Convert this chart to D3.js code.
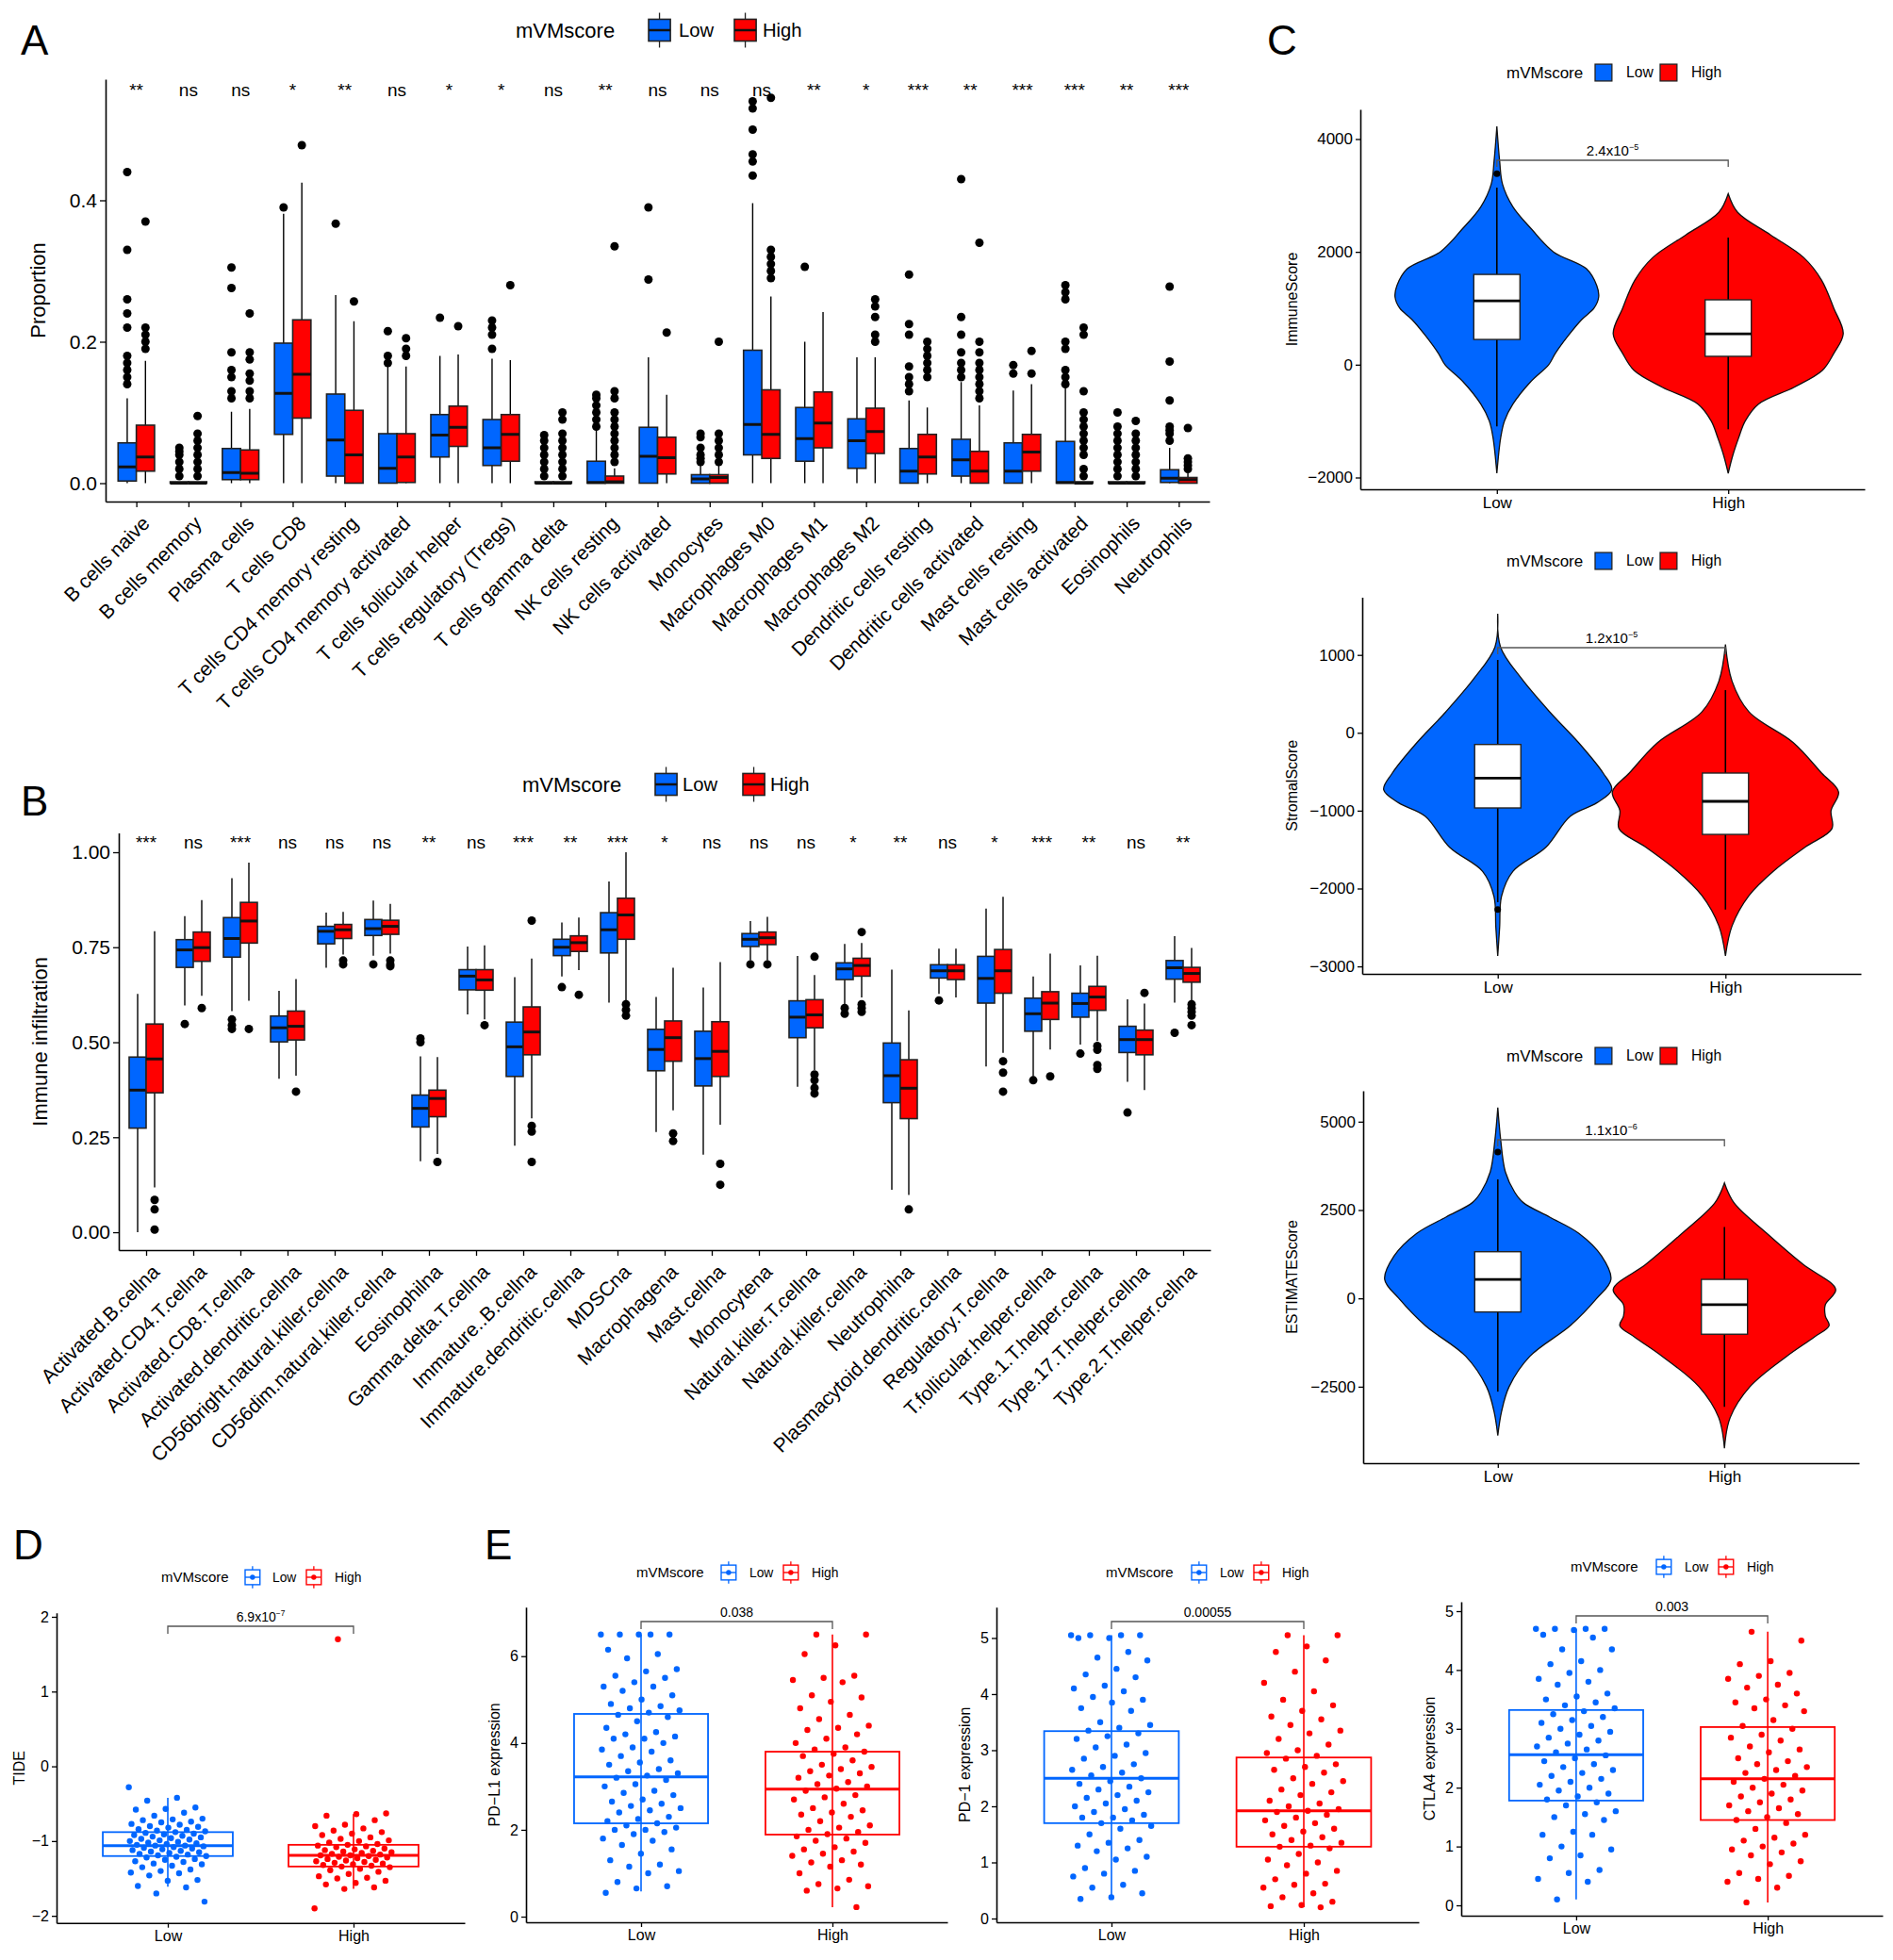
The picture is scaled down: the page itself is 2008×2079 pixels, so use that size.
<!DOCTYPE html>
<html>
<head>
<meta charset="utf-8">
<script src="https://cdn.jsdelivr.net/npm/d3@7"></script>
<style>
  body { margin: 0; background: #fff; }
  svg { font-family: "Liberation Sans", Arial, sans-serif; }
</style>
</head>
<body>
<svg id="fig" width="2008" height="2079"></svg>
<script>
const BLUE = "#0066ff", RED = "#ff0000";
const svg = d3.select("#fig");

// ---------- panel A data: [q1, median, q3, whiskerLow, whiskerHigh], outliers ----------
const cellsA = ["B cells naive","B cells memory","Plasma cells","T cells CD8","T cells CD4 memory resting",
  "T cells CD4 memory activated","T cells follicular helper","T cells regulatory (Tregs)","T cells gamma delta",
  "NK cells resting","NK cells activated","Monocytes","Macrophages M0","Macrophages M1","Macrophages M2",
  "Dendritic cells resting","Dendritic cells activated","Mast cells resting","Mast cells activated","Eosinophils","Neutrophils"];
const sigA = ["**","ns","ns","*","**","ns","*","*","ns","**","ns","ns","ns","**","*","***","**","***","***","**","***"];
const lowA = [[0.003,0.023,0.057,0,0.12],[0,0,0.002,0,0.002],[0.005,0.015,0.049,0,0.101],[0.069,0.127,0.198,0,0.381],
  [0.01,0.061,0.126,0,0.266],[0,0.021,0.07,0,0.165],[0.037,0.068,0.097,0,0.18],[0.025,0.05,0.09,0,0.176],
  [0,0,0.002,0,0.002],[0,0.001,0.031,0,0.075],[0,0.038,0.079,0,0.178],[0,0.006,0.012,0,0.028],
  [0.04,0.083,0.188,0,0.396],[0.031,0.063,0.107,0,0.2],[0.021,0.06,0.091,0,0.178],[0,0.017,0.049,0,0.117],
  [0.01,0.033,0.062,0,0.143],[0,0.017,0.057,0,0.131],[0,0.001,0.059,0,0.135],[0,0,0.002,0,0.002],[0.001,0.007,0.019,0,0.05]];
const highA = [[0.017,0.037,0.082,0,0.173],[0,0,0.002,0,0.002],[0.005,0.014,0.047,0,0.105],[0.092,0.154,0.231,0,0.425],
  [0,0.04,0.103,0,0.229],[0.001,0.037,0.07,0,0.165],[0.052,0.079,0.109,0,0.182],[0.031,0.069,0.097,0,0.174],
  [0,0,0.002,0,0.002],[0,0.002,0.01,0,0.021],[0.013,0.036,0.065,0,0.125],[0,0.008,0.012,0,0.028],
  [0.035,0.069,0.132,0,0.264],[0.05,0.085,0.129,0,0.242],[0.042,0.073,0.106,0,0.178],[0.013,0.037,0.069,0,0.107],
  [0,0.017,0.045,0,0.11],[0.017,0.044,0.069,0,0.14],[0,0,0.002,0,0.002],[0,0,0.002,0,0.002],[0,0.005,0.008,0,0.014]];
const lowOutA = [[0.44,0.33,0.26,0.24,0.22,0.18,0.17,0.16,0.15,0.14],[0.05,0.045,0.04,0.03,0.02,0.01],
  [0.305,0.276,0.185,0.16,0.15,0.13,0.12],[0.39],[0.367],[0.215,0.18,0.17],[0.234],[0.23,0.22,0.21,0.19],
  [0.068,0.06,0.05,0.04,0.03,0.02,0.01],[0.125,0.12,0.11,0.1,0.09,0.08],[0.39,0.288],[0.07,0.065,0.05,0.04,0.035,0.03],
  [0.54,0.53,0.5,0.465,0.455,0.435],[0.306],[],[0.295,0.225,0.21,0.165,0.15,0.14,0.13],
  [0.43,0.235,0.21,0.185,0.17,0.16,0.15],[0.167,0.155],[0.28,0.27,0.26,0.2,0.19,0.16,0.15,0.14],
  [0.1,0.08,0.07,0.06,0.05,0.04,0.03,0.02,0.01],[0.278,0.172,0.117,0.08,0.075,0.07,0.06]];
const highOutA = [[0.37,0.22,0.21,0.2,0.19],[0.095,0.07,0.06,0.05,0.04,0.03,0.02,0.01],
  [0.24,0.185,0.175,0.155,0.145,0.13,0.12],[0.478],[0.257],[0.205,0.19,0.18],[0.222],[0.28],
  [0.1,0.09,0.07,0.06,0.05,0.04,0.03,0.02,0.01],[0.335,0.13,0.12,0.1,0.09,0.08,0.07,0.06,0.05,0.04,0.03],[0.213],
  [0.2,0.07,0.06,0.05,0.04,0.03],[0.545,0.33,0.32,0.31,0.3,0.29],[],[0.26,0.25,0.235,0.21,0.2],
  [0.2,0.19,0.18,0.17,0.16,0.15],[0.34,0.2,0.185,0.17,0.16,0.15,0.14,0.13,0.12],[0.187,0.155],
  [0.22,0.21,0.13,0.1,0.09,0.08,0.07,0.06,0.05,0.04,0.02,0.01],[0.088,0.07,0.06,0.05,0.04,0.03,0.02,0.01],
  [0.078,0.035,0.03,0.025,0.02]];
const ticksA = [0, 0.2, 0.4];

// ---------- panel B data ----------
const cellsB = ["Activated.B.cellna","Activated.CD4.T.cellna","Activated.CD8.T.cellna","Activated.dendritic.cellna",
  "CD56bright.natural.killer.cellna","CD56dim.natural.killer.cellna","Eosinophilna","Gamma.delta.T.cellna",
  "Immature..B.cellna","Immature.dendritic.cellna","MDSCna","Macrophagena","Mast.cellna","Monocytena",
  "Natural.killer.T.cellna","Natural.killer.cellna","Neutrophilna","Plasmacytoid.dendritic.cellna",
  "Regulatory.T.cellna","T.follicular.helper.cellna","Type.1.T.helper.cellna","Type.17.T.helper.cellna","Type.2.T.helper.cellna"];
const sigB = ["***","ns","***","ns","ns","ns","**","ns","***","**","***","*","ns","ns","ns","*","**","ns","*","***","**","ns","**"];
const lowB = [[0.274,0.374,0.461,0,0.627],[0.697,0.743,0.77,0.597,0.832],[0.724,0.773,0.828,0.582,0.932],
  [0.501,0.538,0.569,0.404,0.635],[0.759,0.792,0.805,0.696,0.841],[0.781,0.799,0.823,0.728,0.873],
  [0.277,0.326,0.361,0.187,0.463],[0.638,0.674,0.691,0.573,0.752],[0.41,0.488,0.553,0.228,0.671],
  [0.728,0.75,0.771,0.673,0.815],[0.735,0.796,0.841,0.604,0.923],[0.425,0.481,0.534,0.264,0.619],
  [0.385,0.457,0.529,0.204,0.644],[0.752,0.771,0.786,0.715,0.819],[0.512,0.566,0.609,0.383,0.727],
  [0.665,0.693,0.709,0.6,0.759],[0.341,0.412,0.498,0.112,0.691],[0.669,0.688,0.704,0.627,0.746],
  [0.603,0.668,0.726,0.436,0.852],[0.529,0.575,0.616,0.41,0.673],[0.566,0.602,0.629,0.494,0.702],
  [0.473,0.507,0.542,0.396,0.613],[0.666,0.696,0.715,0.604,0.779]];
const highB = [[0.367,0.456,0.548,0.118,0.792],[0.713,0.749,0.79,0.622,0.874],[0.761,0.819,0.868,0.609,0.973],
  [0.506,0.542,0.582,0.412,0.666],[0.773,0.796,0.81,0.731,0.843],[0.784,0.805,0.821,0.733,0.864],
  [0.304,0.352,0.374,0.206,0.461],[0.637,0.664,0.691,0.56,0.755],[0.467,0.527,0.593,0.3,0.72],
  [0.739,0.762,0.78,0.69,0.828],[0.771,0.835,0.879,0.609,1.0],[0.45,0.512,0.556,0.321,0.696],
  [0.41,0.476,0.554,0.283,0.711],[0.757,0.775,0.79,0.715,0.83],[0.538,0.572,0.612,0.427,0.677],
  [0.674,0.702,0.721,0.618,0.761],[0.299,0.379,0.454,0.098,0.584],[0.665,0.688,0.704,0.618,0.746],
  [0.629,0.688,0.744,0.472,0.883],[0.56,0.603,0.633,0.481,0.733],[0.584,0.619,0.647,0.503,0.728],
  [0.467,0.507,0.532,0.374,0.602],[0.658,0.681,0.697,0.607,0.748]];
const lowOutB = [[],[0.548],[0.56,0.545,0.535],[],[],[0.705],[0.51,0.5],[],[],[0.645],[],[],[],[0.705],[],
  [0.59,0.575],[],[0.61],[],[0.4],[0.47],[0.315],[0.525]];
const highOutB = [[0.085,0.06,0.007],[0.59],[0.535],[0.37],[0.715,0.705],[0.715,0.705,0.7],[0.185],[0.545],
  [0.82,0.28,0.265,0.185],[0.625],[0.6,0.585,0.57],[0.26,0.24],[0.18,0.125],[0.705],[0.725,0.415,0.4,0.38,0.365],
  [0.79,0.6,0.59,0.58],[0.06],[],[0.45,0.42,0.37],[0.41],[0.49,0.48,0.44,0.43],[0.63],[0.6,0.59,0.58,0.57,0.545]];
const ticksB = [0, 0.25, 0.5, 0.75, 1.0];

// ---------- panel C data: box [q1, med, q3, wLo, wHi], outliers, density profile [value, relative width] ----------
const groups = ["Low", "High"];
const immuneBox = [[447,1132,1600,-1094,3139],[148,548,1150,-1145,2253]];
const immuneOut = [[3386],[]];
const immuneDens = [
  [[4226,0],[3600,3],[3200,6],[2800,17],[2400,37],[2000,60],[1700,95],[1400,106],[1200,108],[1000,103],[800,90],[500,75],[200,62],[0,55],[-300,36],[-700,17],[-1000,8],[-1300,4],[-1925,0]],
  [[3030,0],[2700,10],[2300,45],[1900,80],[1500,99],[1000,112],[550,122],[200,112],[-100,100],[-400,70],[-700,32],[-1000,18],[-1300,11],[-1600,5],[-1925,0]]];
const stromalBox = [[-965,-583,-150,-2175,937],[-1305,-880,-517,-2270,548]];
const stromalOut = [[-2270],[]];
const stromalDens = [
  [[1529,0],[1100,3],[700,25],[270,55],[-130,86],[-520,112],[-730,121],[-900,105],[-1070,77],[-1470,51],[-1780,16],[-2100,4],[-2500,2],[-2865,0]],
  [[1134,0],[662,7],[268,25],[-126,72],[-517,102],[-760,120],[-1000,112],[-1230,113],[-1465,85],[-1776,51],[-2090,25],[-2480,7],[-2865,0]]];
const estimateBox = [[-385,537,1320,-2640,3367],[-1015,-180,537,-3070,2020]];
const estimateOut = [[4140],[]];
const estimateDens = [
  [[5400,0],[4500,3],[3580,8],[3000,18],[2710,27],[2300,55],[1840,86],[1200,110],[537,120],[0,105],[-770,77],[-1640,34],[-2500,12],[-3200,4],[-3880,0]],
  [[3265,0],[2710,10],[1840,45],[970,83],[250,118],[-180,107],[-500,107],[-770,111],[-1100,95],[-1640,66],[-2500,27],[-3380,6],[-4240,0]]];

// ---------- panel D / E data ----------
const tideBox = [[-1.2,-1.06,-0.88,-1.61,-0.42],[-1.34,-1.19,-1.05,-1.64,-0.64]];
const tideLow = [-0.28,-0.42,-0.46,-0.55,-0.57,-0.58,-0.62,-0.66,-0.7,-0.71,-0.72,-0.74,-0.75,-0.77,-0.78,-0.8,-0.81,-0.82,-0.84,-0.85,-0.86,-0.87,-0.88,-0.89,-0.9,-0.91,-0.92,-0.93,-0.94,-0.95,-0.96,-0.97,-0.98,-0.99,-1.0,-1.01,-1.02,-1.03,-1.04,-1.05,-1.06,-1.06,-1.07,-1.08,-1.09,-1.1,-1.11,-1.12,-1.13,-1.14,-1.15,-1.16,-1.17,-1.18,-1.19,-1.2,-1.21,-1.22,-1.24,-1.25,-1.27,-1.28,-1.3,-1.31,-1.33,-1.35,-1.38,-1.4,-1.42,-1.43,-1.46,-1.52,-1.53,-1.6,-1.62,-1.7,-1.81];
const tideHigh = [1.7,-0.63,-0.64,-0.66,-0.72,-0.78,-0.8,-0.83,-0.86,-0.88,-0.9,-0.92,-0.95,-0.97,-0.99,-1.0,-1.02,-1.04,-1.05,-1.06,-1.07,-1.08,-1.1,-1.11,-1.12,-1.13,-1.14,-1.15,-1.16,-1.17,-1.18,-1.19,-1.19,-1.2,-1.21,-1.22,-1.23,-1.24,-1.25,-1.26,-1.27,-1.28,-1.29,-1.3,-1.31,-1.32,-1.33,-1.34,-1.35,-1.37,-1.39,-1.41,-1.44,-1.47,-1.49,-1.5,-1.53,-1.56,-1.58,-1.62,-1.64,-1.9];
const pdl1Box = [[2.15,3.22,4.67,0.58,6.5],[1.89,2.94,3.8,0.22,6.5]];
const pdl1Low = [6.5,6.5,6.5,6.5,6.5,6.15,6.05,5.95,5.7,5.65,5.55,5.5,5.4,5.3,5.3,5.2,5.1,5.0,4.9,4.85,4.8,4.75,4.7,4.65,4.6,4.5,4.35,4.25,4.2,4.15,4.1,4.1,4.0,3.9,3.85,3.8,3.7,3.6,3.55,3.5,3.4,3.35,3.3,3.25,3.2,3.15,3.05,3.0,2.9,2.85,2.8,2.7,2.65,2.6,2.55,2.5,2.45,2.4,2.3,2.25,2.2,2.15,2.1,2.05,2.0,2.0,1.95,1.9,1.8,1.75,1.65,1.55,1.45,1.3,1.2,1.15,1.05,1.0,0.8,0.7,0.65,0.55];
const pdl1High = [6.5,6.5,6.25,6.05,5.55,5.5,5.45,5.4,5.1,5.05,4.95,4.8,4.65,4.55,4.4,4.35,4.3,4.2,4.1,4.0,3.9,3.85,3.8,3.75,3.7,3.6,3.5,3.45,3.4,3.35,3.3,3.25,3.2,3.1,3.05,3.0,2.95,2.9,2.8,2.75,2.7,2.6,2.5,2.45,2.4,2.35,2.3,2.2,2.1,2.05,2.0,1.95,1.9,1.85,1.8,1.75,1.7,1.6,1.55,1.5,1.45,1.4,1.3,1.25,1.2,1.15,1.0,0.85,0.75,0.7,0.65,0.6,0.22];
const pd1Box = [[1.7,2.5,3.34,0.35,5.05],[1.28,1.92,2.87,0.2,5.05]];
const pd1Low = [5.05,5.05,5.05,5.05,5.0,5.0,4.75,4.65,4.6,4.45,4.35,4.3,4.15,4.1,4.05,3.95,3.9,3.85,3.75,3.7,3.5,3.45,3.4,3.35,3.3,3.25,3.2,3.1,3.05,2.95,2.9,2.85,2.75,2.7,2.65,2.6,2.55,2.5,2.45,2.4,2.35,2.3,2.25,2.2,2.15,2.1,2.05,2.0,1.95,1.9,1.85,1.8,1.8,1.75,1.7,1.65,1.6,1.5,1.4,1.35,1.3,1.25,1.2,1.1,1.05,0.9,0.85,0.8,0.75,0.6,0.55,0.45,0.38,0.35];
const pd1High = [5.05,5.05,4.85,4.75,4.6,4.4,4.2,4.05,3.9,3.8,3.7,3.6,3.55,3.45,3.35,3.3,3.2,3.1,3.0,2.95,2.9,2.85,2.75,2.7,2.65,2.6,2.5,2.45,2.4,2.3,2.25,2.2,2.1,2.05,2.0,1.95,1.92,1.9,1.85,1.8,1.75,1.7,1.65,1.6,1.55,1.5,1.45,1.4,1.35,1.3,1.28,1.25,1.15,1.05,1.0,0.95,0.85,0.8,0.7,0.62,0.6,0.55,0.45,0.38,0.3,0.24,0.22,0.2];
const ctla4Box = [[1.78,2.56,3.32,0.1,4.7],[1.45,2.15,3.03,0.05,4.65]];
const ctla4Low = [4.7,4.7,4.7,4.7,4.68,4.6,4.55,4.35,4.35,4.15,4.1,4.0,3.95,3.85,3.8,3.75,3.6,3.55,3.5,3.45,3.4,3.35,3.3,3.25,3.2,3.15,3.1,3.05,3.0,2.95,2.9,2.85,2.8,2.75,2.7,2.65,2.6,2.55,2.5,2.45,2.4,2.35,2.3,2.25,2.2,2.15,2.1,2.05,2.0,1.95,1.9,1.85,1.8,1.75,1.7,1.6,1.55,1.5,1.45,1.25,1.2,1.2,1.0,0.95,0.85,0.8,0.6,0.55,0.45,0.4,0.1];
const ctla4High = [4.65,4.5,4.15,4.1,3.95,3.9,3.85,3.75,3.7,3.6,3.5,3.45,3.4,3.35,3.3,3.15,3.05,3.0,2.9,2.85,2.8,2.7,2.65,2.6,2.5,2.45,2.4,2.35,2.3,2.25,2.2,2.15,2.1,2.05,2.0,1.95,1.9,1.85,1.8,1.75,1.7,1.65,1.6,1.55,1.5,1.45,1.4,1.3,1.2,1.15,1.1,1.05,1.0,0.95,0.9,0.85,0.75,0.7,0.55,0.5,0.45,0.4,0.3,0.05];

// ---------- helpers ----------
function panelLetter(t, x, y) {
  svg.append("text").attr("x", x).attr("y", y).attr("font-size", 44).text(t);
}

function styleAxis(g, fs) {
  g.selectAll(".domain").attr("stroke", "#000").attr("stroke-width", 1.6);
  g.selectAll(".tick line").attr("stroke", "#000").attr("stroke-width", 1.3);
  g.selectAll(".tick text").attr("font-size", fs).attr("fill", "#000").attr("font-family", "Liberation Sans, Arial");
}

// kind: "filled" (A/B), "square" (C), "outline" (D/E)
function legend(x, y, fs, kind, pos) {
  const g = svg.append("g").attr("font-size", fs);
  g.append("text").attr("x", x).attr("y", y).attr("dy", "0.35em").text("mVMscore");
  [BLUE, RED].forEach((c, i) => {
    const kx = pos[i][0], k = fs * 1.05;
    if (kind === "square") {
      g.append("rect").attr("x", kx).attr("y", y - k / 2).attr("width", k).attr("height", k)
        .attr("fill", c).attr("stroke", "#222").attr("stroke-width", 1.3);
    } else if (kind === "filled") {
      g.append("line").attr("x1", kx + k / 2).attr("x2", kx + k / 2).attr("y1", y - k * 0.8).attr("y2", y + k * 0.8).attr("stroke", "#222").attr("stroke-width", 1.3);
      g.append("rect").attr("x", kx).attr("y", y - k / 2).attr("width", k).attr("height", k)
        .attr("fill", c).attr("stroke", "#222").attr("stroke-width", 1.6);
      g.append("line").attr("x1", kx).attr("x2", kx + k).attr("y1", y).attr("y2", y).attr("stroke", "#111").attr("stroke-width", 2.5);
    } else {
      g.append("line").attr("x1", kx + k / 2).attr("x2", kx + k / 2).attr("y1", y - k * 0.75).attr("y2", y + k * 0.75).attr("stroke", c).attr("stroke-width", 1.3);
      g.append("rect").attr("x", kx).attr("y", y - k / 2).attr("width", k).attr("height", k)
        .attr("fill", "#fff").attr("stroke", c).attr("stroke-width", 1.4);
      g.append("line").attr("x1", kx).attr("x2", kx + k).attr("y1", y).attr("y2", y).attr("stroke", c).attr("stroke-width", 1.4);
      g.append("circle").attr("cx", kx + k / 2).attr("cy", y).attr("r", fs * 0.18).attr("fill", c);
    }
    g.append("text").attr("x", pos[i][1]).attr("y", y).attr("dy", "0.35em").attr("font-size", fs * 0.92).text(groups[i]);
  });
}

function pLabel(g, x1, x2, yBar, yDrop, fs, base, exp) {
  g.append("path").attr("d", `M${x1},${yDrop}V${yBar}H${x2}V${yDrop}`).attr("fill", "none")
    .attr("stroke", "#555").attr("stroke-width", 1.3);
  const t = g.append("text").attr("x", (x1 + x2) / 2).attr("y", yBar - 5).attr("text-anchor", "middle")
    .attr("font-size", fs).text(base);
  if (exp) t.append("tspan").attr("font-size", fs * 0.6).attr("dy", -fs * 0.4).text(exp);
}

// ---------- grouped boxplot panel (A, B) ----------
function groupedBox(cfg) {
  const g = svg.append("g");
  const x = d3.scalePoint().domain(cfg.cats).range(cfg.xr).padding(cfg.pad);
  const y = d3.scaleLinear().domain(cfg.yd).range(cfg.yr);
  const bw = x.step() * cfg.bwf;
  const ax = g.append("g").attr("transform", `translate(${cfg.xr[0]},0)`)
    .call(d3.axisLeft(y).tickValues(cfg.ticks).tickFormat(cfg.fmt).tickSize(6).tickSizeOuter(0));
  styleAxis(ax, 21);
  const bx = g.append("g").attr("transform", `translate(0,${cfg.yr[0]})`)
    .call(d3.axisBottom(x).tickSize(6).tickSizeOuter(0).tickFormat(""));
  styleAxis(bx, 21);
  cfg.cats.forEach((c, i) => {
    g.append("text").attr("transform", `translate(${x(c) + 5},${cfg.yr[0] + 14}) rotate(-45)`)
      .attr("text-anchor", "end").attr("dy", "0.7em").attr("font-size", 21).text(c);
    g.append("text").attr("x", x(c)).attr("y", cfg.sigY).attr("text-anchor", "middle")
      .attr("font-size", 19).text(cfg.sig[i]);
    [[cfg.low, cfg.lowOut, BLUE, -1], [cfg.high, cfg.highOut, RED, 1]].forEach(([box, out, col, s]) => {
      const [q1, md, q3, lo, hi] = box[i];
      const cx = x(c) + s * bw / 2;
      g.append("line").attr("x1", cx).attr("x2", cx).attr("y1", y(lo)).attr("y2", y(hi)).attr("stroke", "#000").attr("stroke-width", 1.4);
      g.append("rect").attr("x", cx - bw / 2).attr("width", bw).attr("y", y(q3))
        .attr("height", Math.max(1.5, y(q1) - y(q3))).attr("fill", col).attr("stroke", "#222").attr("stroke-width", 1.6);
      g.append("line").attr("x1", cx - bw / 2).attr("x2", cx + bw / 2).attr("y1", y(md)).attr("y2", y(md)).attr("stroke", "#111").attr("stroke-width", 3);
      g.selectAll(null).data(out[i]).join("circle").attr("cx", cx).attr("cy", d => y(d)).attr("r", 4.5).attr("fill", "#000");
    });
  });
  g.append("text").attr("transform", `translate(${cfg.titleX},${(cfg.yr[0] + cfg.yr[1]) / 2}) rotate(-90)`)
    .attr("text-anchor", "middle").attr("font-size", 22).text(cfg.title);
}

groupedBox({cats: cellsA, sig: sigA, low: lowA, high: highA, lowOut: lowOutA, highOut: highOutA,
  xr: [112, 1283], pad: 0.59, yd: [-0.026, 0.5713], yr: [532, 84], ticks: ticksA, fmt: d3.format(".1f"),
  bwf: 0.35, sigY: 102, title: "Proportion", titleX: 48});
panelLetter("A", 22, 58);
legend(547, 32, 22, "filled", [[688, 720], [779, 809]]);

groupedBox({cats: cellsB, sig: sigB, low: lowB, high: highB, lowOut: lowOutB, highOut: highOutB,
  xr: [126, 1284], pad: 0.58, yd: [-0.047, 1.0506], yr: [1326, 883.6], ticks: ticksB, fmt: d3.format(".2f"),
  bwf: 0.36, sigY: 900, title: "Immune infiltration", titleX: 50});
panelLetter("B", 22, 865);
legend(554, 832, 22, "filled", [[695, 724], [788, 817]]);

// ---------- violin panels (C) ----------
function violin(cfg) {
  const g = svg.append("g");
  const x = d3.scalePoint().domain(groups).range(cfg.xr).padding(cfg.pad);
  const y = d3.scaleLinear().domain(cfg.yd).range(cfg.yr);
  const w = d3.scaleLinear().domain([0, 1]).range([0, 1]);
  const ax = g.append("g").attr("transform", `translate(${cfg.xr[0]},0)`)
    .call(d3.axisLeft(y).tickValues(cfg.ticks).tickSize(5).tickSizeOuter(0).tickFormat(d => String(d).replace("-", "\u2212")));
  styleAxis(ax, 17);
  const bx = g.append("g").attr("transform", `translate(0,${cfg.yr[0]})`)
    .call(d3.axisBottom(x).tickSize(5).tickSizeOuter(0));
  styleAxis(bx, 17);
  groups.forEach((grp, i) => {
    const cx = x(grp);
    const area = d3.area().curve(d3.curveCatmullRom)
      .y(d => y(d[0])).x0(d => cx - w(d[1])).x1(d => cx + w(d[1]));
    g.append("path").attr("d", area(cfg.dens[i])).attr("fill", i ? RED : BLUE)
      .attr("stroke", "#111").attr("stroke-width", 1.3);
    const [q1, md, q3, lo, hi] = cfg.box[i];
    const bw = 49;
    g.append("line").attr("x1", cx).attr("x2", cx).attr("y1", y(lo)).attr("y2", y(hi)).attr("stroke", "#000").attr("stroke-width", 1.6);
    g.append("rect").attr("x", cx - bw / 2).attr("width", bw).attr("y", y(q3)).attr("height", y(q1) - y(q3))
      .attr("fill", "#fff").attr("stroke", "#222").attr("stroke-width", 1.4);
    g.append("line").attr("x1", cx - bw / 2).attr("x2", cx + bw / 2).attr("y1", y(md)).attr("y2", y(md)).attr("stroke", "#000").attr("stroke-width", 2.8);
    g.selectAll(null).data(cfg.out[i]).join("circle").attr("cx", cx).attr("cy", d => y(d)).attr("r", 3.5).attr("fill", "#000");
  });
  pLabel(g, x("Low"), x("High"), cfg.pY, cfg.pY + 7, 15, cfg.p[0], cfg.p[1]);
  g.append("text").attr("transform", `translate(${cfg.titleX},${(cfg.yr[0] + cfg.yr[1]) / 2}) rotate(-90)`)
    .attr("text-anchor", "middle").attr("font-size", 16).text(cfg.title);
  legend(1598, cfg.legY, 17, "square", [[1692, 1725], [1761, 1794]]);
}

panelLetter("C", 1344, 58);
violin({xr: [1443, 1978], pad: 0.59, yd: [-2209, 4526], yr: [519, 116], ticks: [-2000, 0, 2000, 4000],
  dens: immuneDens, box: immuneBox, out: immuneOut, pY: 170, p: ["2.4x10", "\u22125"], title: "ImmuneScore", titleX: 1376, legY: 77});
violin({xr: [1445, 1974], pad: 0.595, yd: [-3096, 1741], yr: [1033, 633.5], ticks: [-3000, -2000, -1000, 0, 1000],
  dens: stromalDens, box: stromalBox, out: stromalOut, pY: 687, p: ["1.2x10", "\u22125"], title: "StromalScore", titleX: 1376, legY: 595});
violin({xr: [1446, 1972], pad: 0.594, yd: [-4664, 5875], yr: [1552, 1157], ticks: [-2500, 0, 2500, 5000],
  dens: estimateDens, box: estimateBox, out: estimateOut, pY: 1209, p: ["1.1x10", "\u22126"], title: "ESTIMATEScore", titleX: 1376, legY: 1120});

// ---------- jitter boxplots (D, E) ----------
function jitterBox(cfg) {
  const g = svg.append("g");
  const x = d3.scalePoint().domain(groups).range(cfg.xr).padding(cfg.pad);
  const y = d3.scaleLinear().domain(cfg.yd).range(cfg.yr);
  const bw = x.step() * 0.7;
  const ax = g.append("g").attr("transform", `translate(${cfg.xr[0]},0)`)
    .call(d3.axisLeft(y).tickValues(cfg.ticks).tickSize(5).tickSizeOuter(0).tickFormat(d => String(d).replace("-", "\u2212")));
  styleAxis(ax, 16);
  const bx = g.append("g").attr("transform", `translate(0,${cfg.yr[0]})`)
    .call(d3.axisBottom(x).tickSize(5).tickSizeOuter(0));
  styleAxis(bx, 16);
  groups.forEach((grp, i) => {
    const cx = x(grp), col = i ? RED : BLUE;
    const [q1, md, q3, lo, hi] = cfg.box[i];
    g.append("line").attr("x1", cx).attr("x2", cx).attr("y1", y(lo)).attr("y2", y(hi)).attr("stroke", col).attr("stroke-width", 1.6);
    g.append("rect").attr("x", cx - bw / 2).attr("width", bw).attr("y", y(q3)).attr("height", y(q1) - y(q3))
      .attr("fill", "none").attr("stroke", col).attr("stroke-width", 1.8);
    g.append("line").attr("x1", cx - bw / 2).attr("x2", cx + bw / 2).attr("y1", y(md)).attr("y2", y(md)).attr("stroke", col).attr("stroke-width", 3);
    // horizontal spread of points: deterministic low-discrepancy offsets
    g.selectAll(null).data(cfg.pts[i]).join("circle")
      .attr("cx", (d, k) => cx + (((k * 0.618034 + i * 0.3) % 1) - 0.5) * bw * 0.6)
      .attr("cy", d => y(d)).attr("r", 3.2).attr("fill", col);
  });
  pLabel(g, x("Low"), x("High"), cfg.pY, cfg.pY + 8, 14, cfg.p[0], cfg.p[1]);
  g.append("text").attr("transform", `translate(${cfg.titleX},${(cfg.yr[0] + cfg.yr[1]) / 2}) rotate(-90)`)
    .attr("text-anchor", "middle").attr("font-size", 16).text(cfg.title);
  legend(cfg.leg[0], cfg.leg[1], 15, "outline", cfg.leg[2]);
}

panelLetter("D", 14, 1654);
panelLetter("E", 514, 1654);
jitterBox({xr: [60, 493], pad: 0.599, yd: [-2.095, 2.054], yr: [2039.7, 1710.7], ticks: [-2, -1, 0, 1, 2],
  box: tideBox, pts: [tideLow, tideHigh], pY: 1725, p: ["6.9x10", "\u22127"], title: "TIDE", titleX: 26,
  leg: [171, 1673, [[260, 289], [325, 355]]]});
jitterBox({xr: [558, 1005], pad: 0.601, yd: [-0.13, 7.13], yr: [2039, 1704.7], ticks: [0, 2, 4, 6],
  box: pdl1Box, pts: [pdl1Low, pdl1High], pY: 1720, p: ["0.038", null], title: "PD\u2212L1 expression", titleX: 530,
  leg: [675, 1668, [[765, 795], [831, 861]]]});
jitterBox({xr: [1057, 1505], pad: 0.598, yd: [-0.067, 5.55], yr: [2039, 1704.7], ticks: [0, 1, 2, 3, 4, 5],
  box: pd1Box, pts: [pd1Low, pd1High], pY: 1720, p: ["0.00055", null], title: "PD\u22121 expression", titleX: 1029,
  leg: [1173, 1668, [[1264, 1294], [1330, 1360]]]});
jitterBox({xr: [1550, 1997], pad: 0.6, yd: [-0.176, 5.16], yr: [2032, 1699], ticks: [0, 1, 2, 3, 4, 5],
  box: ctla4Box, pts: [ctla4Low, ctla4High], pY: 1714, p: ["0.003", null], title: "CTLA4 expression", titleX: 1522,
  leg: [1666, 1662, [[1757, 1787], [1823, 1853]]]});
</script>
</body>
</html>
